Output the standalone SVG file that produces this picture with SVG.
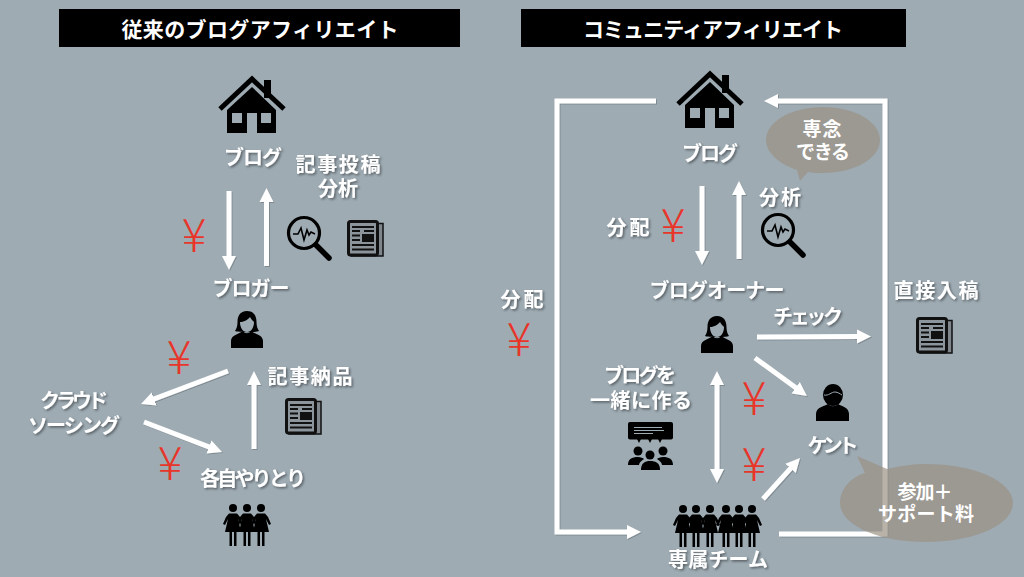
<svg xmlns="http://www.w3.org/2000/svg" width="1024" height="577" viewBox="0 0 1024 577">
<style>
text{font-family:"Noto Sans CJK JP","Noto Sans",sans-serif;text-anchor:middle}
.t{fill:#fff;font-size:20px;font-weight:700;filter:url(#ts)}
.h{fill:#fff;font-size:21px;font-weight:700}
.b{fill:#fff;font-size:19px;font-weight:700}
.y{fill:#e8352a;font-size:46px;font-weight:300}
.c{fill:none;stroke:#fff;stroke-width:5;marker-end:url(#ah)}
.bar{fill:#000}
.bub{fill:#9b9285;fill-opacity:.7}
</style>
<defs>
<filter id="ts" x="-10%" y="-20%" width="125%" height="150%"><feDropShadow dx="1.5" dy="1.5" stdDeviation="1" flood-color="#000" flood-opacity=".45"/></filter>
<filter id="as" filterUnits="userSpaceOnUse" x="0" y="0" width="1024" height="577"><feDropShadow dx="1" dy="1" stdDeviation=".6" flood-color="#000" flood-opacity=".2"/></filter>
<marker id="ah" markerUnits="userSpaceOnUse" markerWidth="15" markerHeight="15" refX="4" refY="7.5" orient="auto-start-reverse"><path d="M0 0.5L14 7.5L0 14.5Z" fill="#fff"/></marker>
<g id="house"><path d="M2 33L34 3L66 33" fill="none" stroke="#000" stroke-width="5"/><rect x="46" y="4" width="7" height="18"/><path fill-rule="evenodd" d="M9 34L34 11L58 34V57H39V37H29V57H9ZM14 37V47H24V37ZM43 37V47H53V37Z"/></g>
<g id="lens"><circle r="15.5" fill="none" stroke="#000" stroke-width="3.2"/><path d="M-11 1H-6L-3 -5L0 7L3 -3L5 2L7 -1L11 1" fill="none" stroke="#000" stroke-width="1.6"/><path d="M12 12L25 25" stroke="#000" stroke-width="5.500" stroke-linecap="round"/></g>
<g id="paper"><path d="M30 3.500H36V36H4V33H30Z" fill="#7f878c" stroke="#111" stroke-width="1.500"/><rect x="1.500" y="1.500" width="29" height="33.500" rx="2" fill="#8c959b" stroke="#111" stroke-width="3"/><path d="M5 7H27M5 25H27M5 29.500H27M5 11H13M17 11H27M5 15.500H13M5 20H13" stroke="#111" stroke-width="1.800"/><rect x="15" y="14" width="12" height="8" fill="#111"/></g>
<g id="woman"><path d="M16 0C9 0 6.500 5 6.500 11C6.500 15 5.500 18 4 20C7 21.500 25 21.500 28 20C26.500 18 25.500 15 25.500 11C25.500 5 23 0 16 0Z"/><path d="M9 11C12 11 17 9 19 6C20 8 22 10 23 11C23 17 20 21 16 21C12 21 9 17 9 11Z" fill="#9eabb3"/><path d="M0 37V30C0 24 8 23 12 20C14 23 18 23 20 20C24 23 32 24 32 30V37Z"/></g>
<g id="man"><ellipse cx="17" cy="11" rx="10" ry="11"/><path d="M8 11C13 12 15 8 19 8C22 8 24 10 26 11" fill="none" stroke="#9eabb3" stroke-width="1"/><path d="M0 37V30C0 23 9 22 12 20C15 23 19 23 22 20C25 22 33 23 33 30V37Z"/></g>
<g id="l1"><circle cy="4" r="4"/><path d="M-4 9.500H4L7 13L10 20L8 21L5 15L8 28H3.500V42H1V28H-1V42H-3.500V28H-8L-5 15L-8 21L-10 20L-7 13Z"/></g>
<g id="team"><rect width="45" height="17.500" rx="2"/><path d="M6 5.500H34M6 8.500H36M6 11.500H25" stroke="#9eabb3" stroke-width="1"/><path d="M9 17L11 21L13 17ZM20 17L22 21L24 17ZM30 17L32 21L34 17Z"/><circle cx="10" cy="29" r="4.500"/><circle cx="22" cy="33" r="4.500"/><circle cx="35" cy="29" r="4.500"/><path d="M0 43C0 37 4 35 10 35C13 35 15 36 16 37C13 39 11 41 11 43ZM45 43C45 37 41 35 35 35C32 35 30 36 29 37C32 39 34 41 34 43Z"/><path d="M13 48C13 41 17 39 22 39C28 39 32 41 32 48Z"/></g>
</defs>
<rect id="background" width="1024" height="577" fill="#9eabb3"/>

<g id="connectors" filter="url(#as)">
<path class="c" d="M229 191V260"/>
<path class="c" d="M266.500 266V198"/>
<path class="c" d="M228 371L150.400 400.400"/>
<path class="c" d="M144 422L212.700 448.400"/>
<path class="c" d="M254 449V381"/>
<path class="c" d="M656 101H557V532H631"/>
<path class="c" d="M779 534H885V101H774"/>
<path class="c" d="M702 186V255"/>
<path class="c" d="M739 259V191"/>
<path class="c" d="M757 337L861 336.500"/>
<path class="c" d="M755 358L798.900 390.100"/>
<path class="c" d="M763 499L793.300 465.400"/>
<path class="c" d="M717 381V473" style="marker-start:url(#ah)"/>
</g>

<g id="title-left"><rect class="bar" x="59" y="9" width="401" height="38"/><text class="h" x="260" y="37" textLength="277">従来のブログアフィリエイト</text></g>
<g id="title-right"><rect class="bar" x="521" y="9" width="385" height="38"/><text class="h" x="713" y="37" textLength="260">コミュニティアフィリエイト</text></g>

<g id="left-blog"><use href="#house" x="218" y="76"/><text class="t" x="253" y="165" textLength="58">ブログ</text></g>
<g id="left-post"><text class="t" x="338" y="172" textLength="85">記事投稿</text><text class="t" x="338" y="196" textLength="40">分析</text></g>
<g id="left-lens"><use href="#lens" x="304" y="233"/></g>
<g id="left-paper"><use href="#paper" x="347" y="220"/></g>
<g id="left-blogger"><text class="t" x="251" y="296" textLength="77">ブロガー</text><use href="#woman" x="231" y="311"/></g>
<g id="left-delivery"><text class="t" x="310" y="384" textLength="85">記事納品</text><use href="#paper" x="285" y="398"/></g>
<g id="left-crowd"><text class="t" x="74" y="408" textLength="68">クラウド</text><text class="t" x="74" y="433" textLength="92">ソーシング</text></g>
<g id="left-workers"><text class="t" x="253" y="486" textLength="106">各自やりとり</text><use href="#l1" x="233" y="504"/><use href="#l1" x="261" y="504"/><use href="#l1" x="247" y="504"/></g>

<g id="right-blog"><use href="#house" x="676" y="71"/><text class="t" x="710" y="161" textLength="56">ブログ</text></g>
<g id="right-analysis"><text class="t" x="780" y="205" textLength="42">分析</text><use href="#lens" x="778" y="230"/></g>
<g id="right-owner"><text class="t" x="717" y="298" textLength="135">ブログオーナー</text><use href="#woman" x="701" y="316"/></g>
<g id="right-check"><text class="t" x="808" y="324" textLength="70">チェック</text></g>
<g id="right-direct"><text class="t" x="936" y="298" textLength="85">直接入稿</text><use href="#paper" x="916" y="317"/></g>
<g id="right-kent"><use href="#man" x="816" y="384"/><text class="t" x="833" y="453" textLength="51">ケント</text></g>
<g id="right-make"><text class="t" x="640" y="383" textLength="72">ブログを</text><text class="t" x="641" y="408" textLength="102">一緒に作る</text><use href="#team" x="628" y="422"/></g>
<g id="right-team"><use href="#l1" x="683" y="505"/><use href="#l1" x="752" y="505"/><use href="#l1" x="696" y="505"/><use href="#l1" x="739" y="505"/><use href="#l1" x="710" y="505"/><use href="#l1" x="726" y="505"/><text class="t" x="718" y="567" textLength="100">専属チーム</text></g>
<text class="t" x="628" y="235" textLength="43">分配</text>
<text class="t" x="522" y="307" textLength="43">分配</text>

<g id="bubble-focus"><path class="bub" d="M823 107C855 107 880 122 880 140C880 158 855 173 823 173C817 173 812 173 808 172L800 181L797 170C782 165 766 154 766 140C766 122 791 107 823 107Z"/><text class="b" x="822" y="136" textLength="39">専念</text><text class="b" x="823" y="159" textLength="54">できる</text></g>
<g id="bubble-fee"><path class="bub" d="M926 464C974 464 1013 481 1013 503C1013 525 974 542 926 542C878 542 840 525 840 503C840 489 851 477 865 473L857 456L887 469C899 466 912 464 926 464Z"/><text class="b" x="925" y="499" textLength="55">参加＋</text><text class="b" x="926" y="521" textLength="96">サポート料</text></g>

<g id="yen"><text class="y" x="194" y="252">¥</text><text class="y" x="179" y="374">¥</text><text class="y" x="170" y="480">¥</text><text class="y" x="673" y="242">¥</text><text class="y" x="519" y="356">¥</text><text class="y" x="754" y="415">¥</text><text class="y" x="754" y="481">¥</text></g>
</svg>
